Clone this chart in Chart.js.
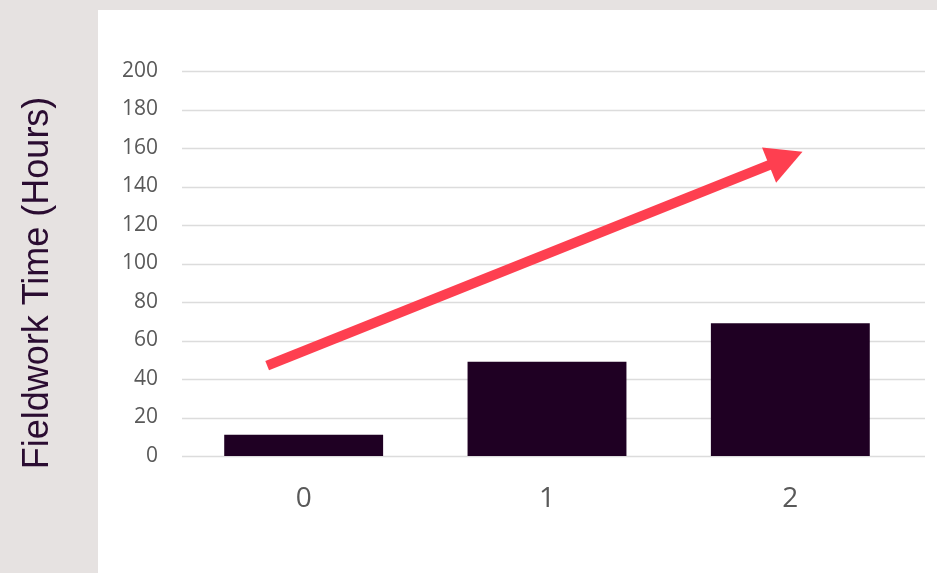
<!DOCTYPE html>
<html>
<head>
<meta charset="utf-8">
<title>Fieldwork Time</title>
<script src="https://cdn.jsdelivr.net/npm/chart.js@4/dist/chart.umd.min.js"></script>
<style>
  html, body { margin: 0; padding: 0; background: #e6e2e1; }
  #wrap { width: 937px; height: 573px; position: relative; }
</style>
</head>
<body>
<div id="wrap"><canvas id="fieldwork-chart" width="937" height="573"></canvas></div>
<script>
// Chart data
const categories = ['0', '1', '2'];
const hours = [11, 49, 69];
const yTicks = [0, 20, 40, 60, 80, 100, 120, 140, 160, 180, 200];
const yTitle = 'Fieldwork Time (Hours)';

// Trend arrow, in data units: [category index, hours]
const arrowFrom = [-0.15, 47];
const arrowTo = [2.05, 158];

const barColor = '#1f0023';
const arrowColor = '#fe3f50';
const tickColor = '#595959';
const gridColor = '#dcdcdc';

// Grey page with a white panel behind the plot, title on the grey strip
const backdrop = {
    id: 'backdrop',
    beforeDraw(chart) {
        const ctx = chart.ctx;
        ctx.save();
        ctx.fillStyle = '#e6e2e1';
        ctx.fillRect(0, 0, chart.width, chart.height);
        ctx.fillStyle = '#ffffff';
        ctx.fillRect(98, 10, chart.width - 98, chart.height - 10);

        ctx.translate(48, 283);
        ctx.rotate(-Math.PI / 2);
        ctx.fillStyle = '#2a0c31';
        ctx.font = '36px "Liberation Sans", Arial, sans-serif';
        ctx.textAlign = 'center';
        ctx.textBaseline = 'alphabetic';
        ctx.fillText(yTitle, 0, 0);
        ctx.restore();
    }
};

// Horizontal gridlines run a little past the last category
const hGrid = {
    id: 'hGrid',
    beforeDatasetsDraw(chart) {
        const { ctx, chartArea, scales } = chart;
        ctx.save();
        ctx.strokeStyle = gridColor;
        ctx.lineWidth = 1.5;
        yTicks.forEach(v => {
            const y = Math.round(scales.y.getPixelForValue(v)) + 0.5;
            ctx.beginPath();
            ctx.moveTo(chartArea.left, y);
            ctx.lineTo(chartArea.right + 13, y);
            ctx.stroke();
        });
        ctx.restore();
    }
};

// Red arrow drawn over the bars
const trendArrow = {
    id: 'trendArrow',
    afterDatasetsDraw(chart) {
        const { ctx, scales } = chart;
        const x0 = scales.x.getPixelForValue(arrowFrom[0]);
        const y0 = scales.y.getPixelForValue(arrowFrom[1]);
        const x1 = scales.x.getPixelForValue(arrowTo[0]);
        const y1 = scales.y.getPixelForValue(arrowTo[1]);
        const ang = Math.atan2(y1 - y0, x1 - x0);
        const headLen = 36;
        const headHalf = 19;
        const bx = x1 - headLen * Math.cos(ang);
        const by = y1 - headLen * Math.sin(ang);

        ctx.save();
        ctx.strokeStyle = arrowColor;
        ctx.fillStyle = arrowColor;
        ctx.lineWidth = 10;
        ctx.beginPath();
        ctx.moveTo(x0, y0);
        ctx.lineTo(bx + 2 * Math.cos(ang), by + 2 * Math.sin(ang));
        ctx.stroke();

        ctx.beginPath();
        ctx.moveTo(x1, y1);
        ctx.lineTo(bx + headHalf * Math.sin(ang), by - headHalf * Math.cos(ang));
        ctx.lineTo(bx - headHalf * Math.sin(ang), by + headHalf * Math.cos(ang));
        ctx.closePath();
        ctx.fill();
        ctx.restore();
    }
};

new Chart(document.getElementById('fieldwork-chart'), {
    type: 'bar',
    data: {
        labels: categories,
        datasets: [{
            data: hours,
            backgroundColor: barColor,
            barPercentage: 0.653,
            categoryPercentage: 1.0
        }]
    },
    options: {
        responsive: false,
        animation: false,
        layout: { padding: { left: 98, right: 25, top: 71, bottom: 0 } },
        plugins: {
            legend: { display: false },
            tooltip: { enabled: false }
        },
        scales: {
            x: {
                grid: { display: false },
                border: { display: false },
                ticks: {
                    color: tickColor,
                    padding: 18,
                    font: { family: '"Open Sans", sans-serif', size: 28 }
                },
                afterFit(scale) { scale.height = 117; }
            },
            y: {
                min: 0,
                max: 200,
                afterBuildTicks(scale) { scale.ticks = yTicks.map(v => ({ value: v })); },
                grid: { display: false, drawTicks: false },
                border: { display: false },
                ticks: {
                    color: tickColor,
                    padding: 24,
                    font: { family: '"Open Sans", sans-serif', size: 21 }
                },
                afterFit(scale) { scale.width = 84; }
            }
        }
    },
    plugins: [backdrop, hGrid, trendArrow]
});
</script>
</body>
</html>
